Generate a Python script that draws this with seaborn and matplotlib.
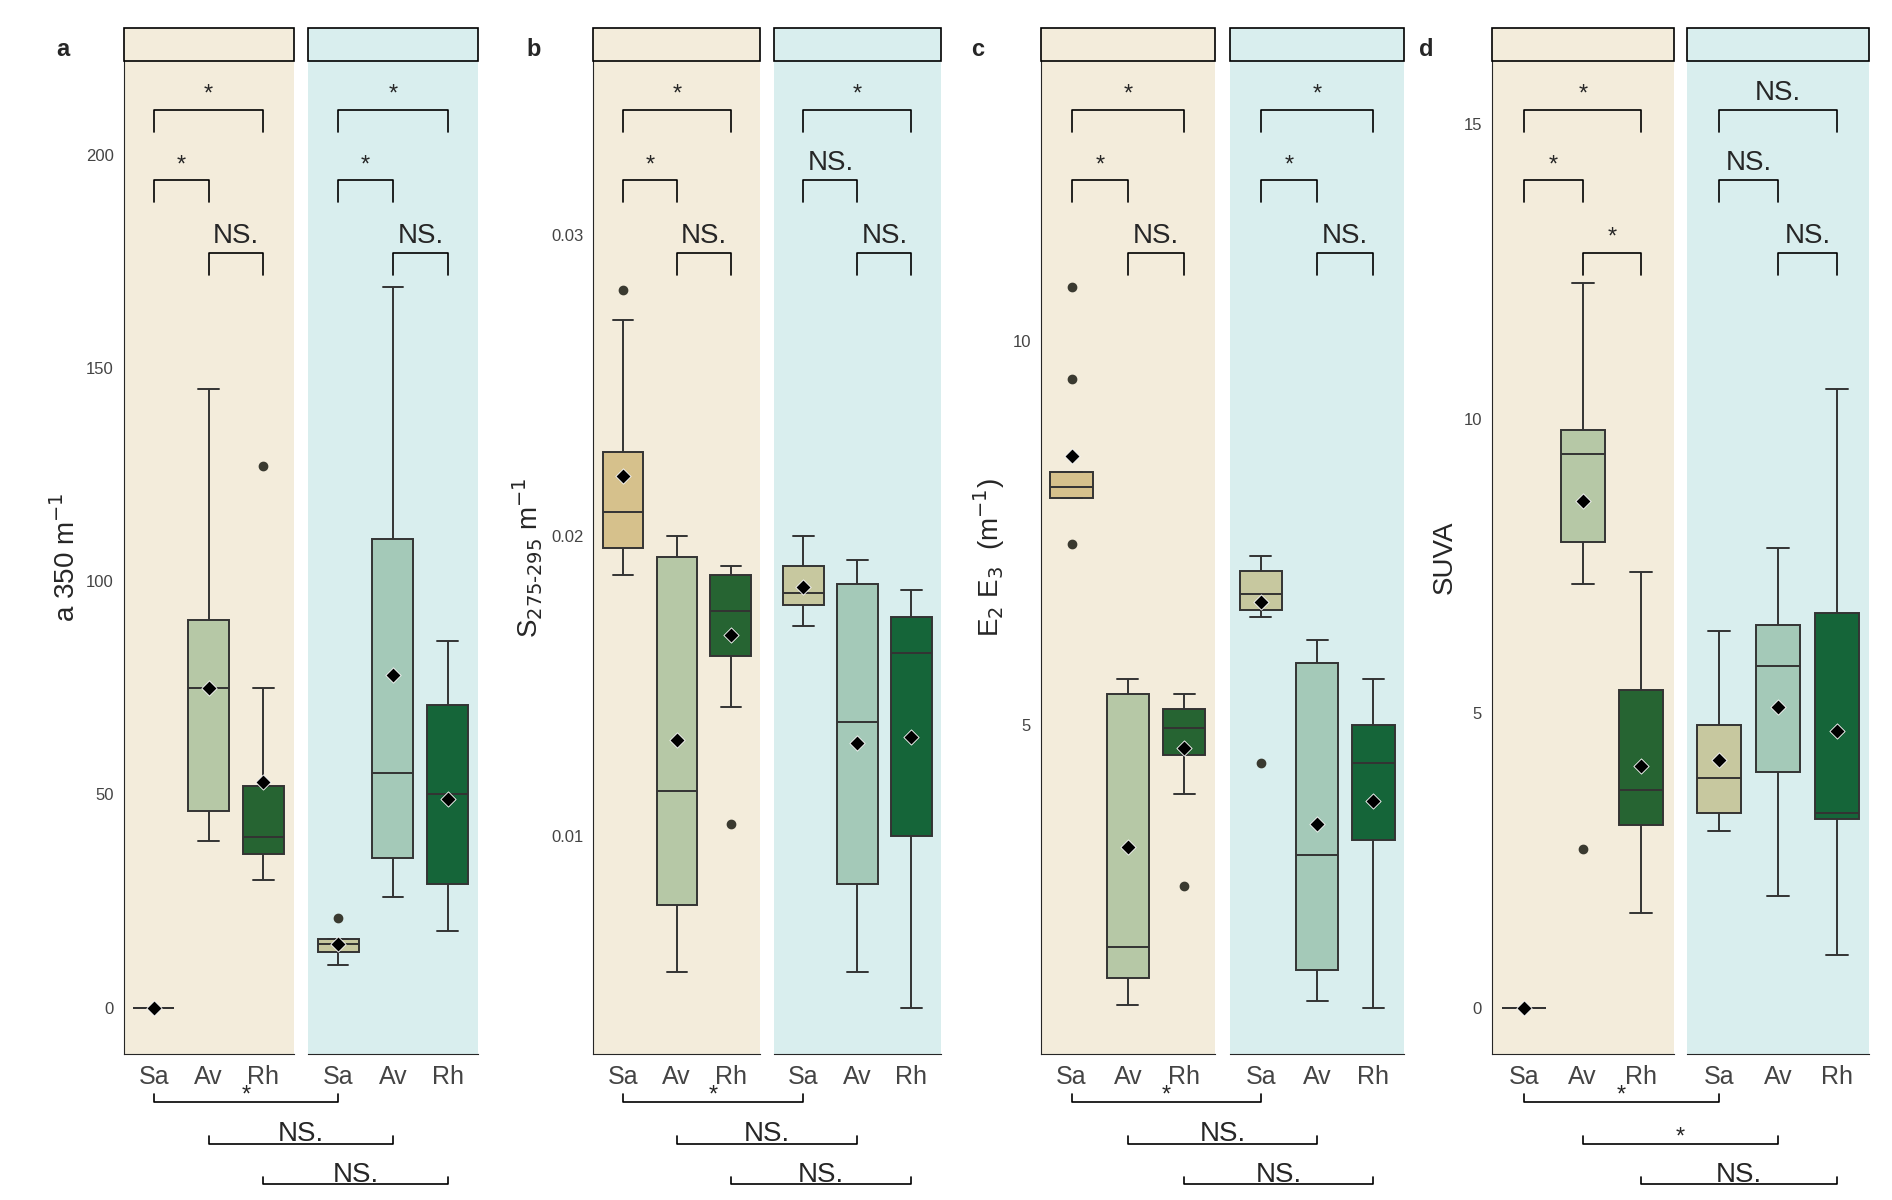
import numpy as np
import pandas as pd
import matplotlib.pyplot as plt
import seaborn as sns

SITES = ["Sa", "Av", "Rh"]
SEASONS = ["DRY", "WET"]

# box stats per panel: (whisker low, q1, median, q3, whisker high), order DRY Sa,Av,Rh, WET Sa,Av,Rh
a_box = [(0, 0, 0, 0, 0), (39, 46, 75, 91, 145), (30, 36, 40, 52, 75),
         (10, 13, 15, 16, 16), (26, 35, 55, 110, 169), (18, 29, 50, 71, 86)]
a_out = [[], [], [127], [21], [], []]
a_mean = [0, 75, 53, 15, 78, 49]

b_box = [(0.0187, 0.0196, 0.0208, 0.0228, 0.0272), (0.0055, 0.0077, 0.0115, 0.0193, 0.0200),
         (0.0143, 0.0160, 0.0175, 0.0187, 0.0190), (0.0170, 0.0177, 0.0181, 0.0190, 0.0200),
         (0.0055, 0.0084, 0.0138, 0.0184, 0.0192), (0.0043, 0.0100, 0.0161, 0.0173, 0.0182)]
b_out = [[0.0282], [], [0.0104], [], [], []]
b_mean = [0.0220, 0.0132, 0.0167, 0.0183, 0.0131, 0.0133]

c_box = [(7.95, 7.95, 8.1, 8.3, 8.3), (1.35, 1.7, 2.1, 5.4, 5.6), (4.1, 4.6, 4.95, 5.2, 5.4),
         (6.4, 6.5, 6.7, 7.0, 7.2), (1.4, 1.8, 3.3, 5.8, 6.1), (1.45, 3.5, 4.5, 5.0, 5.6)]
c_out = [[10.7, 9.5, 7.35], [], [2.9], [4.5], [], [1.3]]
c_mean = [8.5, 3.4, 4.7, 6.6, 3.7, 4.0]

d_box = [(0, 0, 0, 0, 0), (7.2, 7.9, 9.4, 9.8, 12.3), (1.6, 3.1, 3.7, 5.4, 7.4),
         (3.0, 3.3, 3.9, 4.8, 6.4), (1.9, 4.0, 5.8, 6.5, 7.8), (0.9, 3.2, 3.3, 6.7, 10.5)]
d_out = [[], [2.7], [], [], [], []]
d_mean = [0.0, 8.6, 4.1, 4.2, 5.1, 4.7]

# significance: (Sa-Rh, Sa-Av, Av-Rh) per season, and between-season (Sa, Av, Rh)
a_sig = [["*", "*", "NS."], ["*", "*", "NS."]]
b_sig = [["*", "*", "NS."], ["*", "NS.", "NS."]]
c_sig = [["*", "*", "NS."], ["*", "*", "NS."]]
d_sig = [["*", "*", "*"], ["NS.", "NS.", "NS."]]
a_between = ["*", "NS.", "NS."]
b_between = ["*", "NS.", "NS."]
c_between = ["*", "NS.", "NS."]
d_between = ["*", "*", "NS."]

PALETTE = {"DRY": ["#e3c67f", "#b5cea0", "#1c6e2c"], "WET": ["#cdcf98", "#9ecfb8", "#087238"]}
BG = {"DRY": "#f3ecdb", "WET": "#d9eeee"}


def _values(stats, outliers):
    """Builds a small sample whose box summary matches the read stats"""
    wlo, q1, med, q3, whi = stats
    return [wlo] + [q1] * 4 + [med] * 5 + [q3] * 4 + [whi] + list(outliers)


def _bracket(ax, x0, x1, y, label, drop=0.022):
    ax.plot([x0, x0, x1, x1], [y - drop, y, y, y - drop], color="black", lw=1.2,
            transform=ax.get_xaxis_transform(), clip_on=False)
    fs = 20 if label != "*" else 17
    ax.text((x0 + x1) / 2, y + 0.004, label, ha="center", va="bottom", fontsize=fs,
            transform=ax.get_xaxis_transform())


def draw_panel(fig, xs, box, out, mean, sig, between, ylim, yticks, yfmt, ylabel, letter):
    """Draws one two-facet panel with brackets"""
    axes = []
    for i, season in enumerate(SEASONS):
        x0, x1 = xs[i]
        ax = fig.add_axes([x0 / 1560, 0.122, (x1 - x0) / 1560, 0.827])
        ax.set_facecolor(BG[season])
        rows = []
        for j, site in enumerate(SITES):
            for v in _values(box[i * 3 + j], out[i * 3 + j]):
                rows.append((site, v))
        df = pd.DataFrame(rows, columns=["site", "value"])
        sns.boxplot(data=df, x="site", y="value", hue="site", order=SITES, hue_order=SITES,
                    palette=PALETTE[season], width=0.75, linewidth=1.4, linecolor="#333333",
                    fliersize=6, flierprops={"marker": "o", "markerfacecolor": "#3a3a30",
                                             "markeredgecolor": "#3a3a30"},
                    legend=False, ax=ax)
        mdf = pd.DataFrame({"site": SITES, "mean": mean[i * 3:i * 3 + 3]})
        sns.scatterplot(data=mdf, x="site", y="mean", marker="D", color="black", s=60,
                        zorder=5, ax=ax)
        ax.set_xlim(-0.55, 2.55)
        ax.set_ylim(*ylim)
        ax.set_xlabel("")
        ax.tick_params(axis="x", labelsize=18, length=5, colors="#444444", labelcolor="#444444")
        for s in ["top", "right"]:
            ax.spines[s].set_visible(False)
        if i == 0:
            ax.set_yticks(yticks)
            ax.set_yticklabels([yfmt.format(t) for t in yticks], fontsize=12, color="#444444")
            ax.set_ylabel(ylabel, fontsize=20)
            ax.text(-0.4, 1.0, letter, transform=ax.transAxes, fontsize=17,
                    fontweight="bold", va="bottom")
        else:
            ax.spines["left"].set_visible(False)
            ax.set_yticks([])
            ax.set_ylabel("")
        # strip header
        ax.text(0.5, 1.017, season, transform=ax.transAxes, ha="center", va="center",
                fontsize=12, bbox=dict(boxstyle="square,pad=0.35", fc=PALETTE[season][0]
                                       if False else BG[season], ec="black", lw=1.2),
                clip_on=False)
        s = sig[i]
        _bracket(ax, 0, 2, 0.951, s[0])
        _bracket(ax, 0, 1, 0.880, s[1])
        _bracket(ax, 1, 2, 0.807, s[2])
        axes.append(ax)
    # strip backgrounds spanning full facet width
    for i, ax in enumerate(axes):
        pos = ax.get_position()
        fig.patches.append(plt.Rectangle((pos.x0, 0.949), pos.width, 0.028,
                                         transform=fig.transFigure, fc=BG[SEASONS[i]],
                                         ec="black", lw=1.2, zorder=3))
        for t in ax.texts:
            if t.get_text() in SEASONS:
                t.set_bbox(None)
                t.set_position((0.5, 1.0175))
                t.set_zorder(4)
    # between-season brackets below axes
    to_fig = fig.transFigure.inverted()
    levels = [0.082, 0.047, 0.013]
    for j in range(3):
        xa = to_fig.transform(axes[0].transData.transform((j, 0)))[0]
        xb = to_fig.transform(axes[1].transData.transform((j, 0)))[0]
        y = levels[j]
        fig.lines.append(plt.Line2D([xa, xa, xb, xb], [y + 0.006, y, y, y + 0.006],
                                    transform=fig.transFigure, color="black", lw=1.2))
        lab = between[j]
        fig.text((xa + xb) / 2, y - 0.004 if lab == "*" else y - 0.003, lab, ha="center",
                 va="bottom", fontsize=17 if lab == "*" else 20)


fig = plt.figure(figsize=(18.92, 12), dpi=100)
sns.set_style("white")
plt.rcParams["font.family"] = ["Liberation Sans", "DejaVu Sans"]

draw_panel(fig, [(102, 242), (254, 394)], a_box, a_out, a_mean, a_sig, a_between,
           (-10.8, 222), [0, 50, 100, 150, 200], "{:g}", "a 350 m$^{-1}$", "a")
draw_panel(fig, [(489, 627), (638, 776)], b_box, b_out, b_mean, b_sig, b_between,
           (0.00277, 0.0358), [0.01, 0.02, 0.03], "{:.2f}", "S$_{275\\text{-}295}$ m$^{-1}$", "b")
draw_panel(fig, [(858, 1002), (1014, 1158)], c_box, c_out, c_mean, c_sig, c_between,
           (0.71, 13.65), [5, 10], "{:g}", "E$_2$ E$_3$  (m$^{-1}$)", "c")
draw_panel(fig, [(1230, 1380), (1391, 1541)], d_box, d_out, d_mean, d_sig, d_between,
           (-0.78, 16.07), [0, 5, 10, 15], "{:g}", "SUVA", "d")

plt.savefig("out.png", dpi=100)
plt.close()
